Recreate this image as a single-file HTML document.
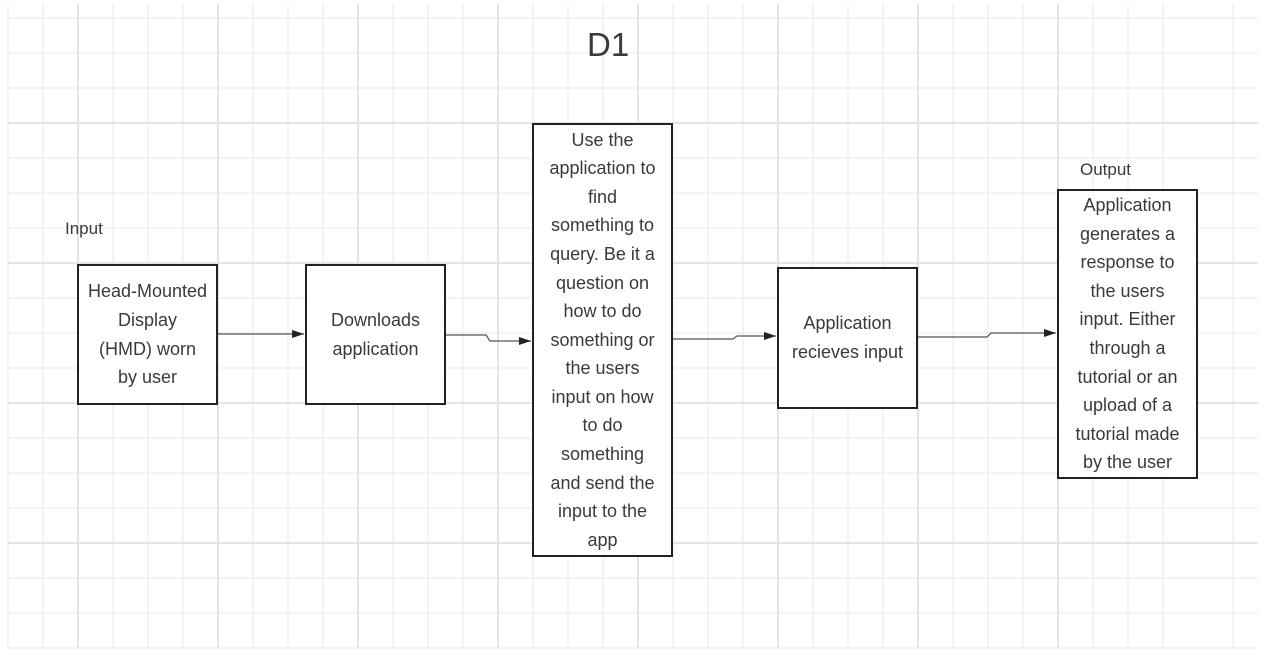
<!DOCTYPE html>
<html><head><style>
body{margin:0;width:1264px;height:662px;background:#fff;overflow:hidden;position:relative;font-family:"Liberation Sans",sans-serif;color:#3a3a3a}
.b{position:absolute;border:2px solid #222;background:#fff;box-sizing:border-box;display:flex;align-items:center;justify-content:center;text-align:center;font-size:18px;line-height:28.6px}
.t{position:absolute;font-size:17px}
</style></head><body>
<svg width="1264" height="662" style="position:absolute;left:0;top:0">
<g stroke="#f0f0f0" stroke-width="1.5">
<path d="M8,4V648M43,4V648M113,4V648M148,4V648M183,4V648M253,4V648M288,4V648M323,4V648M393,4V648M428,4V648M463,4V648M533,4V648M568,4V648M603,4V648M673,4V648M708,4V648M743,4V648M813,4V648M848,4V648M883,4V648M953,4V648M988,4V648M1023,4V648M1093,4V648M1128,4V648M1163,4V648M1233,4V648"/>
<path d="M8,18H1258M8,53H1258M8,88H1258M8,158H1258M8,193H1258M8,228H1258M8,298H1258M8,333H1258M8,368H1258M8,438H1258M8,473H1258M8,508H1258M8,578H1258M8,613H1258M8,648H1258"/>
</g>
<g stroke="#e4e4e4" stroke-width="2">
<path d="M78,4V648M218,4V648M358,4V648M498,4V648M638,4V648M778,4V648M918,4V648M1058,4V648"/>
<path d="M8,123H1258M8,263H1258M8,403H1258M8,543H1258"/>
</g>
<defs><marker id="a" markerWidth="12" markerHeight="8" refX="12" refY="4" orient="auto" markerUnits="userSpaceOnUse"><path d="M0,0L12,4L0,8z" fill="#222"/></marker></defs>
<g fill="none" stroke="#555" stroke-width="1.2">
<path d="M218,334H304" marker-end="url(#a)"/>
<path d="M445,335H486L490,341H531" marker-end="url(#a)"/>
<path d="M672,339H733L737,336H776" marker-end="url(#a)"/>
<path d="M917,337H987L991,333H1056" marker-end="url(#a)"/>
</g>
</svg>
<div class="t" style="left:587px;top:26px;font-size:33px">D1</div>
<div class="t" style="left:65px;top:219px">Input</div>
<div class="t" style="left:1080px;top:160px">Output</div>
<div class="b" style="left:77px;top:264px;width:141px;height:141px">Head-Mounted<br>Display<br>(HMD) worn<br>by user</div>
<div class="b" style="left:305px;top:264px;width:141px;height:141px">Downloads<br>application</div>
<div class="b" style="left:532px;top:123px;width:141px;height:434px">Use the<br>application to<br>find<br>something to<br>query. Be it a<br>question on<br>how to do<br>something or<br>the users<br>input on how<br>to do<br>something<br>and send the<br>input to the<br>app</div>
<div class="b" style="left:777px;top:267px;width:141px;height:142px">Application<br>recieves input</div>
<div class="b" style="left:1057px;top:189px;width:141px;height:290px">Application<br>generates a<br>response to<br>the users<br>input. Either<br>through a<br>tutorial or an<br>upload of a<br>tutorial made<br>by the user</div>
</body></html>
